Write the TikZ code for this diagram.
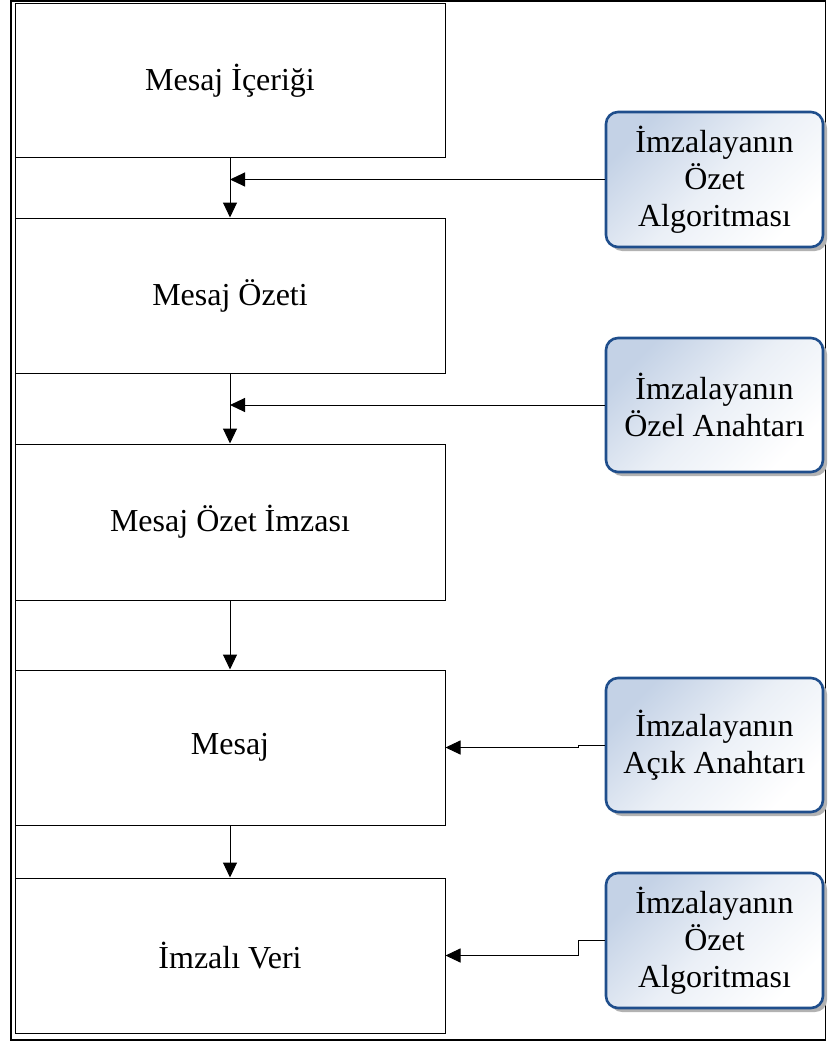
\documentclass[tikz,border=0pt]{standalone}
\usepackage{fontspec}
\setmainfont{Liberation Serif}
\usetikzlibrary{arrows.meta,shadows}
\definecolor{kbord}{HTML}{1F4E8C}
\definecolor{kfill}{HTML}{C4D2E6}
\begin{document}
\begin{tikzpicture}[x=1pt,y=-1pt,
  mainbox/.style={draw=black, line width=1pt, minimum width=430pt, inner sep=0pt,
    font=\fontsize{32}{37}\selectfont},
  sidebox/.style={draw=kbord, line width=2.6pt, rounded corners=12pt, minimum width=217pt,
    inner sep=0pt, align=center, font=\fontsize{32}{37}\selectfont,
    top color=kfill, bottom color=white, middle color=kfill!35, shading angle=45,
    drop shadow={shadow xshift=4pt, shadow yshift=-4pt, fill=black!30, opacity=1}},
  arr/.style={line width=1pt, -{Triangle[length=15pt,width=14pt]}},
  frame/.style={line width=1.8pt}]
\useasboundingbox (0,0) rectangle (827,1043);
\draw[frame] (11,1) rectangle (825.5,1040);
\draw[line width=1pt] (15,4) -- (15,1033);
\node[mainbox, minimum height=154pt] (b1) at (230,81) {Mesaj İçeriği};
\node[mainbox, minimum height=155pt] (b2) at (230,295.5) {Mesaj Özeti};
\node[mainbox, minimum height=156pt] (b3) at (230,522) {Mesaj Özet İmzası};
\node[mainbox, minimum height=155pt] (b4) at (230,747.5) {Mesaj};
\node[mainbox, minimum height=155pt] (b5) at (230,955.5) {İmzalı Veri};
\node[sidebox, minimum height=135pt] (sA) at (714.5,179.5) {İmzalayanın\\Özet\\Algoritması};
\node[sidebox, minimum height=134pt] (sB) at (714.5,405) {İmzalayanın\\Özel Anahtarı};
\node[sidebox, minimum height=134pt] (sC) at (714.5,745) {İmzalayanın\\Açık Anahtarı};
\node[sidebox, minimum height=135pt] (sD) at (714.5,940.5) {İmzalayanın\\Özet\\Algoritması};
\coordinate (jog) at (578,0);
\draw[arr] (b1.south) -- (b2.north);
\draw[arr] (b2.south) -- (b3.north);
\draw[arr] (b3.south) -- (b4.north);
\draw[arr] (b4.south) -- (b5.north);
\draw[arr] (sA.west) -- (sA.west -| b1.south);
\draw[arr] (sB.west) -- (sB.west -| b2.south);
\draw[arr] (sC.west) -- (sC.west -| jog) -- (b4.east -| jog) -- (b4.east);
\draw[arr] (sD.west) -- (sD.west -| jog) -- (b5.east -| jog) -- (b5.east);
\end{tikzpicture}
\end{document}
